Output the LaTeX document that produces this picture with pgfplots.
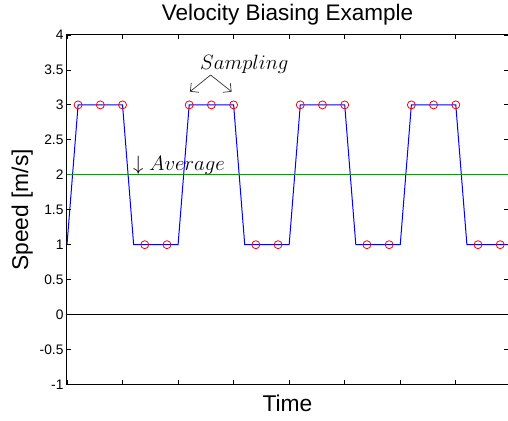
\documentclass[border=0pt]{standalone}
\usepackage{pgfplots}
\pgfplotsset{compat=1.18}
\usepackage{fontspec}
\setmainfont{Liberation Sans}
\usetikzlibrary{arrows.meta}

\definecolor{avggreen}{RGB}{20,150,20}

\begin{document}
\begin{tikzpicture}
\begin{axis}[
  name=ax,
  scale only axis,
  width=441pt, height=349.5pt,
  xmin=0, xmax=39.7, ymin=-1, ymax=4,
  xtick={0,5,...,35}, xticklabels={},
  ytick={-1,-0.5,...,4},
  yticklabels={-1,-0.5,0,0.5,1,1.5,2,2.5,3,3.5,4},
  tick align=inside,
  major tick length=4pt,
  tick style={black, line width=0.8pt},
  axis line style={black, line width=1pt},
  ticklabel style={font=\fontsize{13.8}{15}\selectfont},
  title={Velocity Biasing Example},
  title style={font=\fontsize{22.5}{26}\selectfont,
    at={(axis description cs:0.5,1.0237)}, anchor=base},
  xlabel={Time}, ylabel={Speed [m/s]},
  xlabel style={font=\fontsize{22.8}{26}\selectfont,
    at={(axis description cs:0.5,-0.0778)}, anchor=base},
  ylabel style={font=\fontsize{22.8}{26}\selectfont,
    at={(axis description cs:-0.0884,0.5)}, anchor=base, rotate=0},
  clip=false,
]
% zero reference
\addplot[black, line width=1pt] coordinates {(0,0) (39.7,0)};
% commanded speed profile
\addplot[blue, line width=1pt] coordinates {
  (0,1) (1,3) (5,3) (6,1) (10,1) (11,3) (15,3) (16,1) (20,1)
  (21,3) (25,3) (26,1) (30,1) (31,3) (35,3) (36,1) (39.7,1)};
% sampled values
\addplot[only marks, mark=o, mark size=4pt, red, line width=0.8pt] coordinates {
  (1,3) (3,3) (5,3) (7,1) (9,1) (11,3) (13,3) (15,3) (17,1) (19,1)
  (21,3) (23,3) (25,3) (27,1) (29,1) (31,3) (33,3) (35,3) (37,1) (39,1)};
% mean speed
\addplot[avggreen, line width=1.1pt] coordinates {(0,2) (39.7,2)};

\node[anchor=base west, inner sep=0pt, font=\fontsize{22}{26}\selectfont]
  at (axis cs:11.97,3.509) {$Sampling$};
\draw[-{Straight Barb[length=6pt]}, line width=0.7pt, black!80]
  (axis cs:12.93,3.428) -- (axis cs:11.07,3.189);
\draw[-{Straight Barb[length=6pt]}, line width=0.7pt, black!80]
  (axis cs:12.93,3.428) -- (axis cs:14.82,3.189);
\node[anchor=base west, inner sep=0pt, font=\fontsize{22}{26}\selectfont]
  at (axis cs:5.94,2.059) {$\downarrow Average$};
\end{axis}
% frame of the figure: 67pt left of the plot box, 35pt above, 36.5pt below
\pgfresetboundingbox
\path ([xshift=-67pt,yshift=-36.5pt]ax.south west) rectangle ([yshift=35pt]ax.north east);
\end{tikzpicture}
\end{document}
